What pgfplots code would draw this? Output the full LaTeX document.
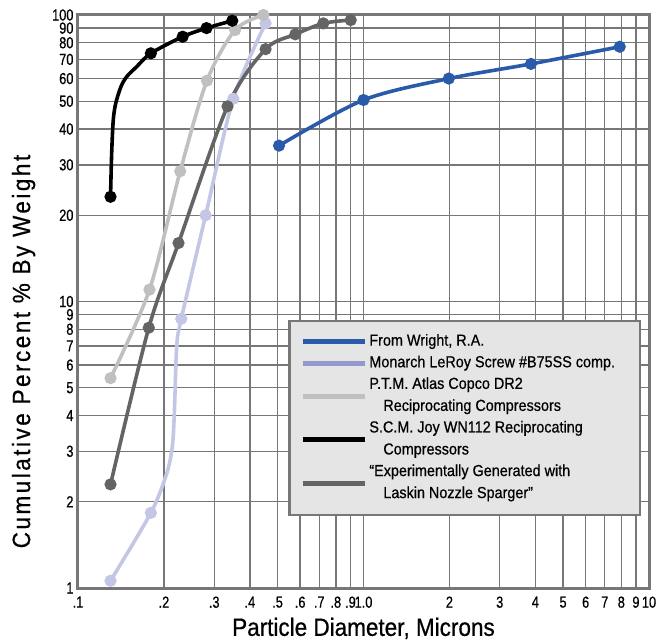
\documentclass[border=0pt]{standalone}
\usepackage{fontspec}
\setmainfont{Liberation Sans}[FakeStretch=0.9, FakeBold=0.6]
\newfontfamily\ylabfont{Liberation Sans}[FakeStretch=0.9, FakeBold=0.6, LetterSpace=10]
\newfontfamily\ticfont{Liberation Sans}[FakeStretch=0.8, FakeBold=0.6]
\usepackage{pgfplots}
\pgfplotsset{compat=1.18}

\definecolor{wright}{HTML}{2A5BAA}
\definecolor{monarch}{HTML}{C3C6E5}
\definecolor{monarchleg}{HTML}{9399CC}
\definecolor{ptm}{HTML}{C0C0C0}
\definecolor{laskin}{HTML}{646464}
\definecolor{gridc}{HTML}{777777}

\begin{document}
\begin{tikzpicture}
\begin{loglogaxis}[
    name=ax,
    scale only axis,
    width=571pt, height=573pt,
    xmin=0.1, xmax=10, ymin=1, ymax=100,
    xtick={0.1,0.2,0.3,0.4,0.5,0.6,0.7,0.8,0.9,1,2,3,4,5,6,7,8,9,10},
    xticklabels={.1,.2,.3,.4,.5,.6,.7,.8,.9,1.0,2,3,4,5,6,7,8,9,10},
    ytick={1,2,3,4,5,6,7,8,9,10,20,30,40,50,60,70,80,90,100},
    yticklabels={1,2,3,4,5,6,7,8,9,10,20,30,40,50,60,70,80,90,100},
    minor tick num=0,
    major tick length=0pt,
    grid=major,
    major grid style={gridc, line width=1.4pt},
    axis line style={gridc, line width=3pt},
    tick label style={font=\ticfont\fontsize{16}{16}\selectfont},
    xticklabel style={yshift=-5pt, inner xsep=1pt},
    yticklabel style={xshift=-1pt},
    xlabel={Particle Diameter, Microns},
    ylabel={\ylabfont Cumulative Percent \% By Weight},
    label style={font=\fontsize{25}{25}\selectfont},
    xlabel style={yshift=-3pt},
    ylabel style={yshift=10pt, xshift=-50pt},
    clip=false,
    every axis plot/.append style={line width=3.6pt, mark=*, mark options={solid}, mark size=4.2pt, smooth, forget plot},
    legend style={at={(0.368,0.468)}, anchor=north west, fill=black!10, draw=gridc, line width=2.5pt,
        font=\fontsize{16}{22}\selectfont, nodes={align=left, inner ysep=0pt, text depth=4pt}, row sep=6pt, inner xsep=11pt, inner ysep=13pt},
    legend cell align=left,
    legend image code/.code={\draw[line width=5pt] (0pt,0pt) -- (62pt,0pt);},
]
\addplot[wright] coordinates {(0.506,35) (1.0,50.5) (1.99,60) (3.86,67.5) (7.9,77.5)};
\addplot[monarch, mark indices={1,2,7,8,9,10}] coordinates {(0.13,1.06) (0.18,1.83) (0.2045,2.51) (0.2139,3.11) (0.2175,4.07) (0.2217,6.96) (0.23,8.7) (0.28,20) (0.35,51) (0.454,93.5)};
\addplot[ptm] coordinates {(0.13,5.4) (0.178,11) (0.228,28.5) (0.283,59) (0.355,88.6) (0.446,100)};
\addplot[black, mark indices={1,8,9,10,11}] coordinates {(0.13,23.2) (0.1312,32.9) (0.1329,43.0) (0.1356,49.2) (0.1414,56.2) (0.1481,60.9) (0.1605,66.0) (0.18,73.5) (0.2326,84) (0.282,90) (0.347,95.5)};
\addplot[laskin] coordinates {(0.13,2.3) (0.177,8.1) (0.225,16) (0.334,48) (0.454,76) (0.577,85.6) (0.723,93.5) (0.902,96)};
\addlegendimage{wright}
\addlegendentry{From Wright, R.A.}
\addlegendimage{monarchleg}
\addlegendentry{Monarch LeRoy Screw \#B75SS comp.\hspace{12pt}}
\addlegendimage{ptm}
\addlegendentry{P.T.M. Atlas Copco DR2\\\hspace{14pt}Reciprocating Compressors}
\addlegendimage{black}
\addlegendentry{S.C.M. Joy WN112 Reciprocating\\\hspace{14pt}Compressors}
\addlegendimage{laskin}
\addlegendentry{``Experimentally Generated with\\\hspace{14pt}Laskin Nozzle Sparger''}
\end{loglogaxis}
\pgfresetboundingbox
\path[use as bounding box] ([shift={(-78pt,-53pt)}]ax.south west) rectangle ([shift={(9pt,15pt)}]ax.north east);
\end{tikzpicture}
\end{document}
